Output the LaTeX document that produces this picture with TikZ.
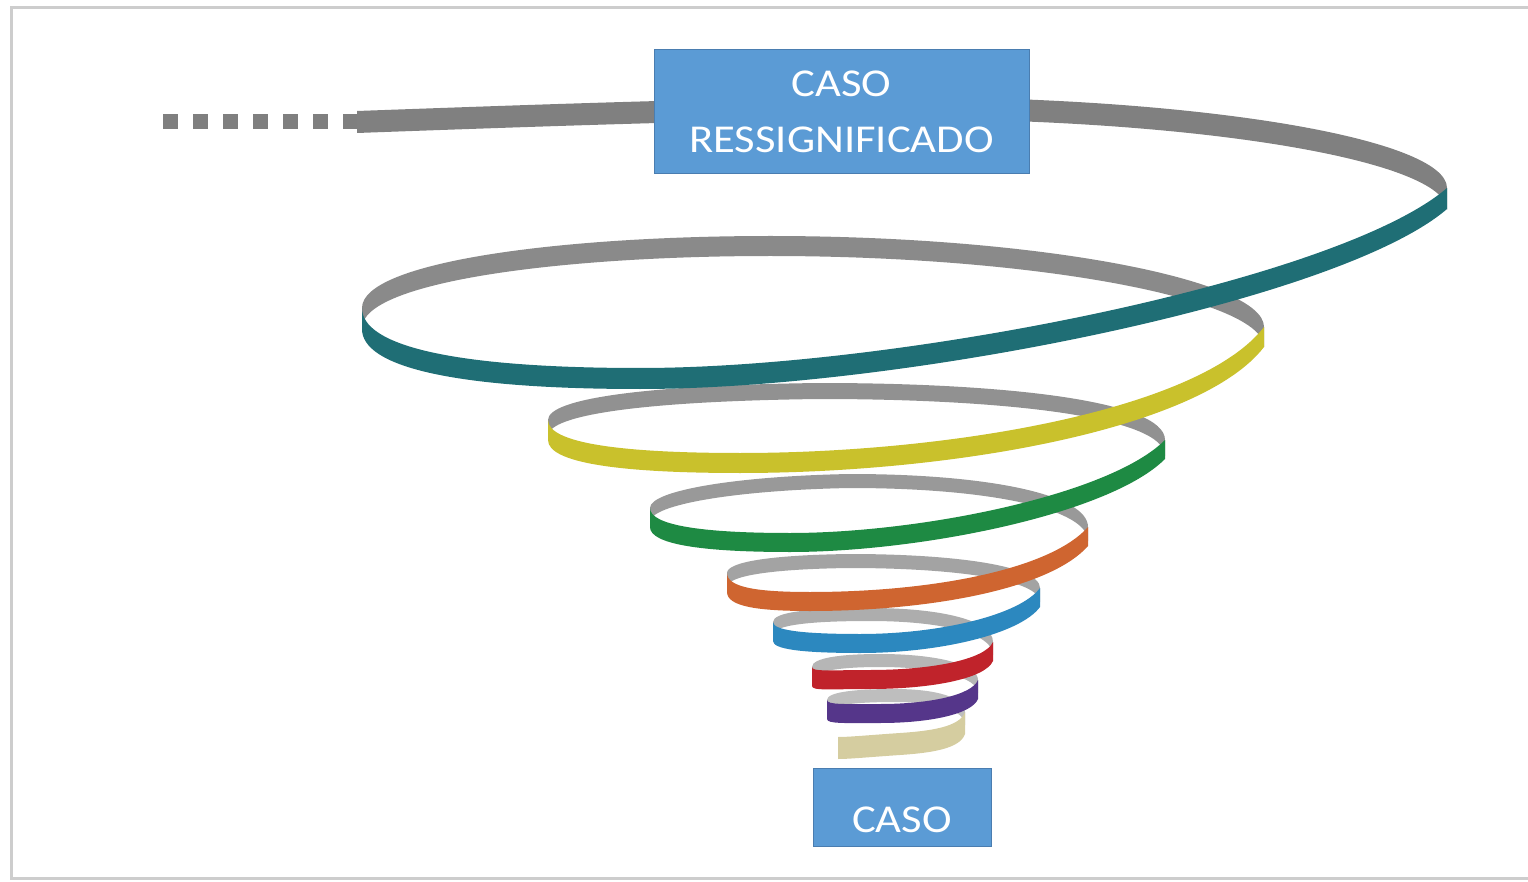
\documentclass[tikz,border=0pt]{standalone}
\usepackage{fontspec}
\setmainfont{Carlito}[FakeStretch=1.13]

\definecolor{boxblue}{HTML}{5B9BD5}
\definecolor{boxedge}{HTML}{4A7DB0}
\definecolor{framegray}{HTML}{CDCDCD}
\definecolor{tailgray}{HTML}{7F7F7F}
\definecolor{backA}{HTML}{808080}
\definecolor{backB}{HTML}{8A8A8A}
\definecolor{backC}{HTML}{919191}
\definecolor{backD}{HTML}{999999}
\definecolor{backE}{HTML}{A3A3A3}
\definecolor{backF}{HTML}{ADADAD}
\definecolor{backG}{HTML}{B6B6B6}
\definecolor{backH}{HTML}{BEBEBE}
\definecolor{bandteal}{HTML}{1F6E75}
\definecolor{bandyellow}{HTML}{C9C12C}
\definecolor{bandgreen}{HTML}{1E8A43}
\definecolor{bandorange}{HTML}{CF6530}
\definecolor{bandblue}{HTML}{2C88BF}
\definecolor{bandred}{HTML}{C0232B}
\definecolor{bandpurple}{HTML}{55368A}
\definecolor{bandbeige}{HTML}{D5CDA0}

% One half turn of the spiral ribbon: the upper edge is two Bezier pieces
% P0 -> M -> P1, and the ribbon hangs below it with height #2.
\newcommand\spiralband[9]{%
  \fill[#1] (#3) .. controls (#4) and (#5) .. (#6) .. controls (#7) and (#8) .. (#9)
    -- ([yshift=-#2]#9) .. controls ([yshift=-#2]#8) and ([yshift=-#2]#7) .. ([yshift=-#2]#6)
    .. controls ([yshift=-#2]#5) and ([yshift=-#2]#4) .. ([yshift=-#2]#3) -- cycle;}

\begin{document}
\begin{tikzpicture}[x=1pt,y=-1pt,
  label box/.style={fill=boxblue, draw=boxedge, line width=1pt, text=white,
    font=\fontsize{39.5}{56}\selectfont, inner sep=0pt, align=center},
  frame line/.style={draw=framegray, line width=3pt},
  tail dots/.style={draw=tailgray, line width=15pt, dash pattern=on 15pt off 15pt}]
\useasboundingbox (0,0) rectangle (1528,882);

% page frame (open on the right)
\draw[frame line] (1528,8) -- (11,8) -- (11,878) -- (1528,878);

% dotted lead-in of the spiral
\coordinate (tail) at (163,122);
\coordinate (spiralstart) at (358,122);
\draw[tail dots] (tail) -- (spiralstart);

% back halves (inner face, grey), outermost first
\spiralband{backA}{22pt}{357,111}{550,104}{750,97}{900,97}{1202,97}{1447,139}{1447,188}
\spiralband{backB}{20pt}{362,308}{362,262}{560,236}{770,236}{1040,236}{1264,280}{1264,327}
\spiralband{backC}{16pt}{548,420}{548,398}{650,385}{820,383}{1000,383}{1165,400}{1165,440}
\spiralband{backD}{14pt}{650,508}{650,490}{740,476}{850,474}{990,474}{1088,495}{1088,527}
\spiralband{backE}{14pt}{727,573}{727,562}{770,555}{850,554}{950,554}{1040,565}{1040,588}
\spiralband{backF}{13pt}{773,622}{773,612}{810,608}{870,608}{940,608}{993,620}{993,642}
\spiralband{backG}{13pt}{812,667}{812,658}{840,654}{880,654}{935,654}{978,664}{978,680}
\spiralband{backH}{13pt}{827,700}{827,692}{855,689}{895,689}{935,689}{965,697}{965,712}

% front halves (outer face, coloured), innermost first
\spiralband{bandbeige}{22pt}{965,712}{960,727}{930,731}{900,733}{870,735}{850,737}{838,737}
\spiralband{bandpurple}{19pt}{978,680}{972,695}{930,704}{880,704}{845,704}{827,705}{827,700}
\spiralband{bandred}{19pt}{993,642}{985,660}{930,670}{870,670}{830,670}{812,672}{812,667}
\spiralband{bandblue}{19pt}{1040,588}{1020,615}{940,634}{860,634}{800,634}{773,630}{773,622}
\spiralband{bandorange}{19pt}{1088,527}{1050,570}{930,592}{810,592}{760,592}{727,588}{727,573}
\spiralband{bandgreen}{19pt}{1165,440}{1110,495}{920,533}{790,533}{700,533}{650,525}{650,508}
\spiralband{bandyellow}{20pt}{1264,327}{1200,410}{950,453}{740,453}{620,453}{548,443}{548,420}
\spiralband{bandteal}{21pt}{1447,188}{1340,280}{900,368}{640,368}{450,368}{362,345}{362,308}

% labels
\node[label box, minimum width=375pt, minimum height=124pt] (resignified)
  at (841.5,112) {CASO\\RESSIGNIFICADO};
\node[label box, minimum width=178pt, minimum height=78pt, text height=50pt, text depth=0pt]
  (case) at (902,807) {CASO};
\end{tikzpicture}
\end{document}
